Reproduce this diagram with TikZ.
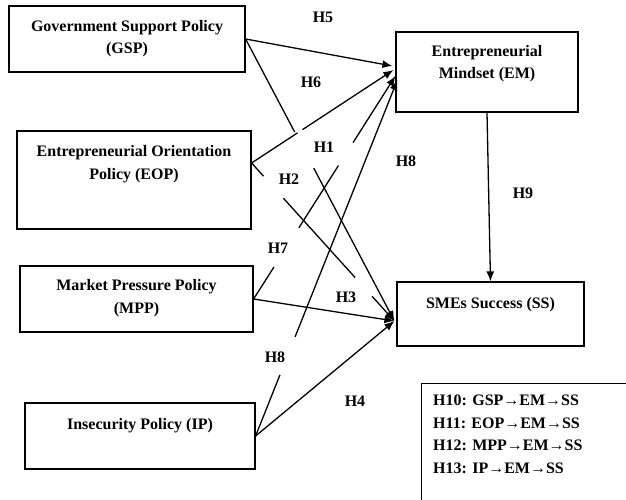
\documentclass[tikz,border=0pt]{standalone}
\usepackage{fontspec}
\setmainfont{Liberation Serif}
\usetikzlibrary{arrows.meta,calc}
\begin{document}
\begin{tikzpicture}[x=1pt,y=-1pt,
  box/.style={draw=black, line width=1.2pt, rectangle, inner sep=0pt},
  boxtext/.style={font=\fontsize{16}{22.5}\selectfont\bfseries, align=center, anchor=base, inner sep=0pt},
  hlabel/.style={font=\fontsize{16}{19}\selectfont\bfseries, inner sep=0pt},
  link/.style={line width=1.3pt},
  arrowlink/.style={link, -{Latex[length=10pt,width=8pt]}},
]
\path[use as bounding box, fill=white] (0,0) rectangle (626,500);
\clip (0,0) rectangle (626,500);

% ---- construct boxes (text nodes sit on the baseline of their last line) ----
\node[box, minimum width=236pt, minimum height=66pt] (GSP) at (127,39) {};
\node[boxtext] (GSPtext) at (127,54) {Government Support Policy\\(GSP)};

\node[box, minimum width=234pt, minimum height=98pt] (EOP) at (134,180) {};
\node[boxtext] (EOPtext) at (134,179) {Entrepreneurial Orientation\\Policy (EOP)};

\node[box, minimum width=233pt, minimum height=66pt] (MPP) at (136.5,299) {};
\node[boxtext] (MPPtext) at (136.5,313) {Market Pressure Policy\\(MPP)};

\node[box, minimum width=230pt, minimum height=66pt] (IP) at (140,436) {};
\node[boxtext] (IPtext) at (140,429) {Insecurity Policy (IP)};

\node[box, minimum width=182pt, minimum height=80pt] (EM) at (487,72) {};
\node[boxtext] (EMtext) at (487,79) {Entrepreneurial\\Mindset (EM)};

\node[box, minimum width=187pt, minimum height=64pt] (SS) at (490.5,314) {};
\node[boxtext] (SStext) at (490.5,308) {SMEs Success (SS)};

% ---- mediation hypotheses ----
\node[box, minimum width=230pt, minimum height=140pt, anchor=north west] (LEG) at (421,383) {};
\node[boxtext, align=left, anchor=base west] (LEGtext) at (433,473)
  {H10: GSP→EM→SS\\H11: EOP→EM→SS\\H12: MPP→EM→SS\\H13: IP→EM→SS};

% ---- connector end points ----
\coordinate (eopOut) at ($(EOP.east)+(0,-17)$);
\coordinate (emIn5) at ($(EM.west)+(-3,-6)$);
\coordinate (emIn6) at ($(EM.west)+(-2,-2)$);
\coordinate (emIn7) at ($(EM.west)+(0,4)$);
\coordinate (emIn8) at ($(EM.west)+(2,8)$);
\coordinate (ssIn) at ($(SS.west)+(-2,7)$);

% ---- paths to the mindset ----
\draw[arrowlink] (GSP.east) -- (emIn5);
\draw[arrowlink, dash pattern={on 54.9pt off 5.9pt on 300pt}] (eopOut) -- (emIn6);
\draw[arrowlink, dash pattern={on 38pt off 46.3pt on 73.7pt off 27.3pt on 300pt}] (MPP.east) -- (emIn7);
\draw[arrowlink, dash pattern={on 65.7pt off 41pt on 400pt}] (IP.east) -- (emIn8);

% ---- paths to success ----
\draw[arrowlink, dash pattern={on 105.3pt off 40.8pt on 300pt}] (GSP.east) -- (ssIn);
\draw[arrowlink, dash pattern={on 17.8pt off 29.7pt on 106.9pt off 25.2pt on 300pt}] (eopOut) -- (ssIn);
\draw[arrowlink] (MPP.east) -- (ssIn);
\draw[arrowlink] (IP.east) -- (ssIn);
\draw[arrowlink] (EM.south) -- (SS.north);

% ---- hypothesis labels ----
\node[hlabel] (h5) at (323,17) {H5};
\node[hlabel] (h6) at (311,82) {H6};
\node[hlabel] (h1) at (324,147) {H1};
\node[hlabel] (h2) at (289,179) {H2};
\node[hlabel] (h7) at (278,248) {H7};
\node[hlabel] (h3) at (346,297) {H3};
\node[hlabel] (h8a) at (406,161) {H8};
\node[hlabel] (h9) at (523,193) {H9};
\node[hlabel] (h8b) at (275,357) {H8};
\node[hlabel] (h4) at (355,401) {H4};
\end{tikzpicture}
\end{document}
